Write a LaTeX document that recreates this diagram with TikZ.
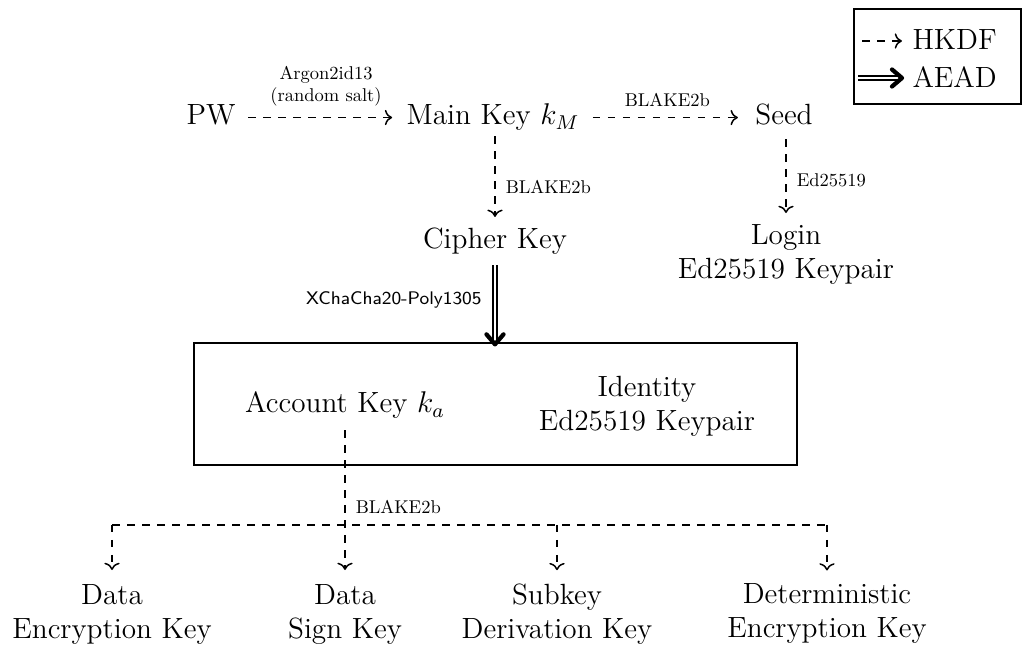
\documentclass[tikz,border=0pt]{standalone}
\usepackage{fontspec}
\newfontfamily\lblfont{lmroman10-regular.otf}
\usetikzlibrary{arrows.meta}
\begin{document}
\begin{tikzpicture}[x=0.4pt,y=-0.4pt,
  big/.style={font=\fontsize{11.7}{13.6}\selectfont, inner sep=0pt, align=center},
  lbl/.style={font=\lblfont\fontsize{7.4}{8.8}\selectfont, inner sep=0pt, align=center},
  sflbl/.style={font=\fontsize{7.3}{8.8}\selectfont\sffamily, inner sep=0pt},
  hk/.style={semithick, dashed, ->},
  ae/.style={line width=0.75pt, double, double distance=1pt},
  aehead/.style={line width=1.7pt, line cap=round, line join=round},
  frame/.style={draw, line width=0.5pt, inner sep=0pt},
]
\useasboundingbox (0,0) rectangle (1029,650);

% top row
\node[big, anchor=base] (pw) at (211,125) {PW};
\node[big, anchor=base] (main) at (493,125) {Main Key $k_M$};
\node[big, anchor=base] (seed) at (784,125) {Seed};
\node[big, anchor=base] (cipher) at (495,249) {Cipher Key};
\node[big] (login) at (786,254.5) {Login\\Ed25519 Keypair};

% box
\node[frame, minimum width=241.2pt, minimum height=48.8pt] (box) at (495.5,404) {};
\node[big, anchor=base] (acc) at (345,413) {Account Key $k_a$};
\node[big] (ident) at (647,406) {Identity\\Ed25519 Keypair};

% bottom
\node[big] (dek) at (112,614.5) {Data\\Encryption Key};
\node[big] (dsk) at (345,614.5) {Data\\Sign Key};
\node[big] (sdk) at (557,614) {Subkey\\Derivation Key};
\node[big] (ddk) at (827,614) {Deterministic\\Encryption Key};

% connectors
\draw[hk, shorten <=5pt, shorten >=5.6pt] (pw.east |- main.west) -- (main.west)
  node[lbl, midway, above=4.4pt, xshift=2pt] (argon) {Argon2id13\\(random salt)};
\draw[hk, shorten <=5.2pt, shorten >=6.8pt] (main.east) -- (seed.west |- main.east)
  node[lbl, midway, above=4pt] (bl1) {BLAKE2b};
\draw[hk, shorten <=2pt, shorten >=4.4pt] (cipher.north |- main.south) -- (cipher.north)
  node[lbl, pos=0.58, right=4pt] (bl2) {BLAKE2b};
\draw[hk, shorten <=5.2pt, shorten >=4.4pt] (login.north |- seed.south) -- (login.north)
  node[lbl, pos=0.55, right=4pt] (ed) {Ed25519};
\coordinate (aetip) at ([yshift=-0.8pt]cipher.south |- box.north);
\draw[ae, shorten <=4pt, shorten >=1.5pt] (cipher.south) -- (aetip)
  node[sflbl, pos=0.5, left=5pt] (xc) {XChaCha20-Poly1305};
\draw[aehead] ([shift={(-8.5,-10)}]aetip) -- (aetip) -- ([shift={(8.5,-10)}]aetip);

\coordinate (split) at (345,525);
\draw[hk, shorten <=4.4pt, shorten >=5.6pt] (acc.south) -- (dsk.north)
  node[lbl, pos=0.53, right=4pt] (bl3) {BLAKE2b};
\draw[semithick, dashed] (dek.north |- split) -- (ddk.north |- split);
\draw[hk, shorten >=5.6pt] (dek.north |- split) -- (dek.north);
\draw[hk, shorten >=5.2pt] (sdk.north |- split) -- (sdk.north);
\draw[hk, shorten >=5.2pt] (ddk.north |- split) -- (ddk.north);

% legend
\node[frame, minimum width=66.8pt, minimum height=38pt] (legend) at (937.5,56.5) {};
\node[big, anchor=base west] (hkdf) at (912,50) {HKDF};
\node[big, anchor=base west] (aead) at (912,88) {AEAD};
\coordinate (h0) at (862,41);
\coordinate (a0) at (858,78);
\coordinate (a1) at (902,78);
\draw[hk, shorten >=4pt] (h0) -- (h0 -| hkdf.west);
\draw[ae, shorten >=1.5pt] (a0) -- (a1);
\draw[aehead] ([shift={(-10,-8.5)}]a1) -- (a1) -- ([shift={(-10,8.5)}]a1);
\end{tikzpicture}
\end{document}
